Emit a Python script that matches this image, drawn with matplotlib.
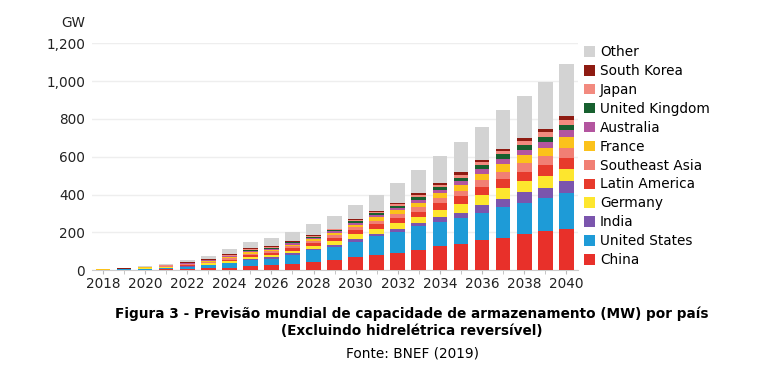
import numpy as np
import matplotlib.pyplot as plt
from matplotlib.patches import Patch

# ---------------- dados (GW) ----------------
years = list(range(2018, 2041))

china = [1, 2, 3, 5, 7, 10, 13, 20, 25, 32, 44, 56, 67, 79, 92, 107, 127, 140, 157, 172, 190, 205, 220]
united_states = [1, 2, 4, 6, 10, 15, 22, 32, 36, 48, 60, 67, 83, 100, 112, 125, 128, 136, 145, 160, 164, 174, 186]
india = [0, 0, 1, 1, 2, 3, 4, 5, 6, 8, 9, 10, 12, 12, 13, 15, 24, 27, 40, 46, 58, 58, 64]
germany = [0, 1, 2, 3, 5, 7, 9, 12, 13, 15, 17, 22, 28, 28, 30, 32, 38, 47, 53, 56, 57, 62, 65]
latin_america = [1, 1, 2, 2, 4, 5, 8, 10, 11, 12, 13, 17, 22, 25, 29, 31, 36, 40, 44, 46, 52, 55, 60]
southeast_asia = [0, 1, 1, 2, 3, 4, 6, 8, 9, 10, 10, 12, 14, 18, 21, 23, 27, 30, 37, 40, 44, 49, 53]
france = [1, 1, 2, 2, 3, 4, 6, 8, 8, 10, 11, 13, 14, 18, 22, 23, 27, 28, 32, 40, 45, 43, 56]
australia = [0, 0, 1, 2, 2, 3, 4, 6, 6, 7, 7, 8, 10, 11, 12, 17, 17, 21, 27, 29, 28, 34, 37]
united_kingdom = [0, 0, 1, 1, 2, 3, 3, 5, 5, 5, 5, 6, 9, 9, 9, 14, 16, 20, 23, 24, 26, 27, 28]
japan = [0, 0, 0, 1, 1, 2, 3, 4, 4, 4, 4, 4, 6, 7, 9, 10, 12, 17, 15, 18, 21, 22, 24]
south_korea = [1, 1, 1, 2, 3, 3, 5, 5, 4, 4, 5, 5, 8, 6, 6, 9, 10, 11, 9, 12, 12, 17, 22]
other = [1, 2, 3, 5, 11, 16, 27, 33, 43, 48, 58, 67, 71, 87, 105, 125, 142, 160, 178, 205, 223, 252, 275]

series = [
    ("China", china, "#e8302a"),
    ("United States", united_states, "#1e9bd7"),
    ("India", india, "#7b55ad"),
    ("Germany", germany, "#fde62e"),
    ("Latin America", latin_america, "#e73a2c"),
    ("Southeast Asia", southeast_asia, "#f17f74"),
    ("France", france, "#fbc21b"),
    ("Australia", australia, "#b3559f"),
    ("United Kingdom", united_kingdom, "#17602f"),
    ("Japan", japan, "#f28a7f"),
    ("South Korea", south_korea, "#8e1b12"),
    ("Other", other, "#d3d3d3"),
]

# ---------------- figura ----------------
fig = plt.figure(figsize=(7.66, 3.71), dpi=100)
ax = fig.add_axes([0.120, 0.272, 0.635, 0.611])

bottom = np.zeros(len(years))
for name, vals, col in series:
    ax.bar(years, vals, bottom=bottom, width=0.7, color=col, label=name, zorder=3)
    bottom += np.array(vals)

ax.set_xlim(2017.48, 2040.57)
ax.set_ylim(0, 1200)
ax.set_yticks(range(0, 1201, 200))
ax.set_yticklabels(["0", "200", "400", "600", "800", "1,000", "1,200"])
ax.set_xticks(range(2018, 2041, 2))
ax.set_xticks(years, minor=True)
ax.tick_params(axis="y", length=0, labelsize=9.8, pad=5, colors="#222222")
ax.tick_params(axis="x", which="both", length=3, labelsize=9.8, pad=2,
               colors="#222222")
ax.tick_params(axis="x", which="both", color="#bbbbbb")
ax.grid(axis="y", color="#eeeeee", lw=1, zorder=0)
for s in ["top", "right", "left"]:
    ax.spines[s].set_visible(False)
ax.spines["bottom"].set_color("#cccccc")

fig.text(0.080, 0.938, "GW", fontsize=9.8, color="#222222", ha="left", va="center")

handles = [Patch(facecolor=c, edgecolor="none") for _, _, c in series][::-1]
labels = [n for n, _, _ in series][::-1]
fig.legend(handles, labels, loc="upper left", bbox_to_anchor=(0.755, 0.893),
           frameon=False, fontsize=9.8, handlelength=0.8, handleheight=0.8,
           handletextpad=0.4, labelspacing=0.36, borderaxespad=0)

cx = 0.538
fig.text(cx, 0.155, "Figura 3 - Previsão mundial de capacidade de armazenamento (MW) por país",
         ha="center", va="center", fontsize=9.8, fontweight="bold")
fig.text(cx, 0.108, "(Excluindo hidrelétrica reversível)",
         ha="center", va="center", fontsize=9.8, fontweight="bold")
fig.text(cx, 0.048, "Fonte: BNEF (2019)", ha="center", va="center", fontsize=9.8)

fig.savefig("out.png", dpi=100)
